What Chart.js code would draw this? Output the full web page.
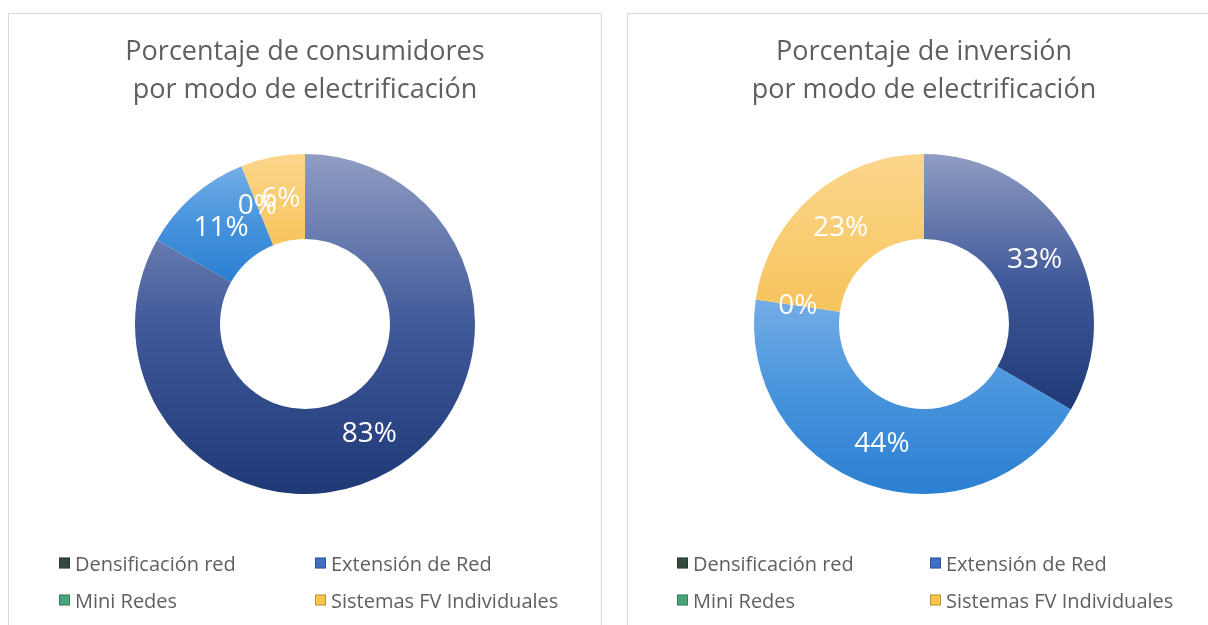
<!DOCTYPE html>
<html>
<head>
<meta charset="utf-8">
<script src="https://cdn.jsdelivr.net/npm/chart.js@4.4.1/dist/chart.umd.min.js"></script>
<style>
  html, body { margin: 0; padding: 0; background: #ffffff; }
  body { width: 1208px; height: 625px; overflow: hidden; position: relative; font-family: "Open Sans", sans-serif; }
  .panel { position: absolute; top: 13px; width: 592px; height: 640px; border: 1px solid #d9d9d9; background: #fff; }
  .panel canvas { position: absolute; left: 0; top: 0; }
  .legend-item { position: absolute; display: flex; align-items: center; font-size: 20px; color: #5f5f5f; white-space: nowrap; transform: translateY(-50%); }
  .legend-item .mk { width: 11px; height: 11px; margin-right: 5px; box-sizing: border-box; border: 1px solid rgba(0,0,0,0.25); }
</style>
</head>
<body>
<div class="panel" id="p1" style="left:8px;"><canvas id="c1" width="592" height="611"></canvas></div>
<div class="panel" id="p2" style="left:627px;"><canvas id="c2" width="592" height="611"></canvas></div>
<script>
// ---- data ----
const categories = ['Densificación red', 'Extensión de Red', 'Mini Redes', 'Sistemas FV Individuales'];
const consumidoresValues = [83.2, 10.7, 0, 6.1];
const inversionValues = [33.4, 43.9, 0, 22.7];
const titleConsumidores = ['Porcentaje de consumidores', 'por modo de electrificación'];
const titleInversion = ['Porcentaje de inversión', 'por modo de electrificación'];

// ---- styles ----
const sliceGradients = [
  ['#909dc3', '#405999', '#1f3876'],
  ['#74ade6', '#4693dc', '#2b7fd1'],
  ['#62bb97', '#3f9a74'],
  ['#fbd68c', '#f7c45c']
];
const legendMarkerColors = ['#35493f', '#3f6fc4', '#47a57a', '#f7c64a'];

function sliceFill(ctx) {
  const stops = sliceGradients[ctx.dataIndex] || sliceGradients[0];
  const chart = ctx.chart;
  const area = chart.chartArea;
  if (ctx.type !== 'data' || !area) return stops[0];
  const data = ctx.dataset.data;
  const total = data.reduce((a, b) => a + b, 0);
  let start = 0;
  for (let k = 0; k < ctx.dataIndex; k++) start += data[k];
  const a0 = -Math.PI / 2 + start / total * 2 * Math.PI;
  const a1 = a0 + data[ctx.dataIndex] / total * 2 * Math.PI;
  const cy = (area.top + area.bottom) / 2;
  const R = Math.min(area.width, area.height) / 2, r = R * 0.5;
  let ymin = Infinity, ymax = -Infinity;
  for (let i = 0; i <= 90; i++) {
    const a = a0 + (a1 - a0) * i / 90;
    for (const rr of [r, R]) {
      const y = cy + rr * Math.sin(a);
      ymin = Math.min(ymin, y); ymax = Math.max(ymax, y);
    }
  }
  if (ymax - ymin < 1) ymax = ymin + 1;
  const g = chart.ctx.createLinearGradient(0, ymin, 0, ymax);
  stops.forEach((c, i) => g.addColorStop(i / (stops.length - 1), c));
  return g;
}

const sliceLabels = {
  id: 'sliceLabels',
  afterDatasetsDraw(chart) {
    const meta = chart.getDatasetMeta(0);
    const data = chart.data.datasets[0].data;
    const total = data.reduce((a, b) => a + b, 0);
    const c = chart.ctx;
    c.save();
    c.font = '28px "Open Sans"';
    c.fillStyle = '#ffffff';
    c.textAlign = 'center';
    c.textBaseline = 'middle';
    meta.data.forEach((arc, i) => {
      const p = arc.getCenterPoint();
      c.fillText(Math.round(data[i] / total * 100) + '%', p.x, p.y);
    });
    c.restore();
  }
};

function makeChart(id, values, title) {
  return new Chart(document.getElementById(id), {
    type: 'doughnut',
    data: {
      labels: categories,
      datasets: [{
        data: values,
        backgroundColor: sliceFill,
        borderWidth: 0
      }]
    },
    options: {
      responsive: false,
      animation: false,
      cutout: '50%',
      layout: { padding: { bottom: 131 } },
      plugins: {
        legend: { display: false },
        tooltip: { enabled: false },
        title: {
          display: true,
          text: title,
          color: '#5f5f5f',
          font: { family: 'Open Sans', size: 27, weight: 'normal', lineHeight: 1.407 },
          padding: { top: 19, bottom: 45 }
        }
      }
    },
    plugins: [sliceLabels]
  });
}

function makeLegend(panelId, colX) {
  const panel = document.getElementById(panelId);
  const rowY = [549, 586];
  categories.forEach((name, i) => {
    const item = document.createElement('div');
    item.className = 'legend-item';
    item.style.left = colX[i % 2] + 'px';
    item.style.top = rowY[Math.floor(i / 2)] + 'px';
    const mk = document.createElement('span');
    mk.className = 'mk';
    mk.style.background = legendMarkerColors[i];
    const tx = document.createElement('span');
    tx.textContent = name;
    item.appendChild(mk);
    item.appendChild(tx);
    panel.appendChild(item);
  });
}

makeChart('c1', consumidoresValues, titleConsumidores);
makeChart('c2', inversionValues, titleInversion);
makeLegend('p1', [50, 306]);
makeLegend('p2', [49, 302]);
</script>
</body>
</html>
